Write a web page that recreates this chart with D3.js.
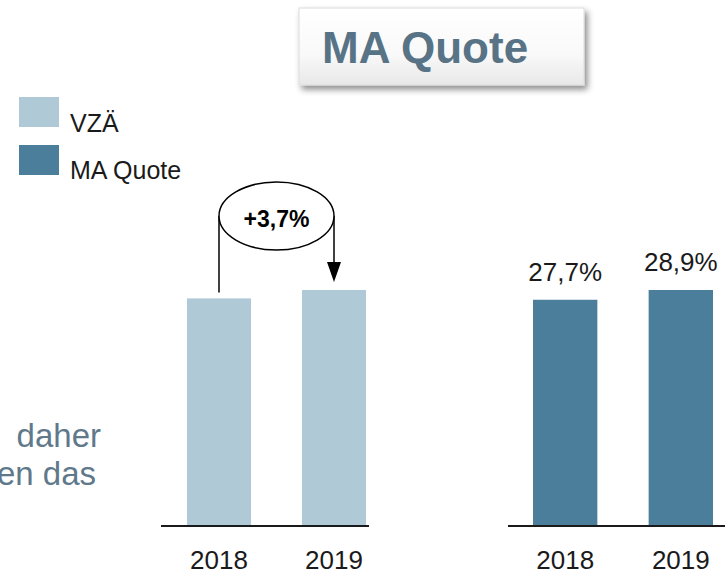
<!DOCTYPE html>
<html>
<head>
<meta charset="utf-8">
<script src="https://cdn.jsdelivr.net/npm/d3@7"></script>
<style>
  body { margin: 0; background: #fff; }
  svg { display: block; font-family: "Liberation Sans", Arial, sans-serif; }
</style>
</head>
<body>
<svg id="svg" width="725" height="574"></svg>
<script>
// データ
const categories = ["2018", "2019"];
const vzaValues = [100, 103.7];        // VZÄ（指数）
const maQuoteValues = [27.7, 28.9];    // MA Quote in %
const maLabels = ["27,7%", "28,9%"];
const growthLabel = "+3,7%";
const legendLabels = ["VZÄ", "MA Quote"];
const colors = ["#b0c9d7", "#4a7e9b"];

const svg = d3.select("#svg");
const baseY = 525;
const maxBarH = 235;

// タイトルの影
const defs = svg.append("defs");
const shadow = defs.append("filter").attr("id", "shadow")
  .attr("x", "-10%").attr("y", "-10%").attr("width", "130%").attr("height", "140%");
shadow.append("feDropShadow").attr("dx", 3).attr("dy", 4).attr("stdDeviation", 3)
  .attr("flood-color", "#000").attr("flood-opacity", 0.45);
const grad = defs.append("linearGradient").attr("id", "boxGrad")
  .attr("x1", 0).attr("y1", 0).attr("x2", 0).attr("y2", 1);
grad.append("stop").attr("offset", "0%").attr("stop-color", "#ffffff");
grad.append("stop").attr("offset", "60%").attr("stop-color", "#f9f9f9");
grad.append("stop").attr("offset", "100%").attr("stop-color", "#e8e8e8");

// タイトル
svg.append("rect")
  .attr("x", 299).attr("y", 8).attr("width", 285).attr("height", 77)
  .attr("fill", "url(#boxGrad)").attr("stroke", "#dcdcdc")
  .attr("filter", "url(#shadow)");
svg.append("text")
  .attr("x", 322).attr("y", 63)
  .attr("font-size", 44).attr("font-weight", "bold")
  .attr("fill", "#587386")
  .text("MA Quote");

// 凡例
const legend = svg.append("g");
legendLabels.forEach((label, i) => {
  legend.append("rect")
    .attr("x", 19).attr("y", 97 + i * 48)
    .attr("width", 40).attr("height", 30)
    .attr("fill", colors[i]);
  legend.append("text")
    .attr("x", 70).attr("y", 132 + i * 47)
    .attr("font-size", 25).attr("fill", "#1a1a1a")
    .text(label);
});

// 左側の本文（切れている部分）
const sideText = [" daher", "en das"];
sideText.forEach((t, i) => {
  svg.append("text")
    .attr("x", [101, 96][i]).attr("y", 447 + i * 38)
    .attr("text-anchor", "end")
    .attr("font-size", 33).attr("fill", "#5f798b")
    .attr("xml:space", "preserve")
    .text(t);
});

// 棒グラフを描く
function drawPanel(range, axisExtent, values, color) {
  const x = d3.scaleBand().domain(categories).range(range)
    .paddingInner(0.4435).paddingOuter(0);
  const y = d3.scaleLinear().domain([0, d3.max(values)])
    .range([baseY, baseY - maxBarH]);

  const g = svg.append("g");
  g.selectAll(".bar").data(values).join("rect")
    .attr("class", "bar")
    .attr("x", (d, i) => x(categories[i]))
    .attr("y", d => y(d))
    .attr("width", x.bandwidth())
    .attr("height", d => baseY - y(d))
    .attr("fill", color);

  g.append("line")
    .attr("x1", axisExtent[0]).attr("x2", axisExtent[1])
    .attr("y1", baseY + 1).attr("y2", baseY + 1)
    .attr("stroke", "#1a1a1a").attr("stroke-width", 2);

  const axis = g.append("g")
    .attr("transform", `translate(0,${baseY})`)
    .call(d3.axisBottom(x).tickSize(0).tickPadding(0));
  axis.select(".domain").remove();
  axis.selectAll("text")
    .attr("dy", null).attr("y", 44)
    .attr("font-size", 26).attr("fill", "#1a1a1a")
    .attr("font-family", "Liberation Sans, Arial, sans-serif");

  return { x, y, g };
}

const left = drawPanel([187, 366], [161, 369], vzaValues, colors[0]);
const right = drawPanel([533, 713], [508, 730], maQuoteValues, colors[1]);

// 右側のラベル
right.g.selectAll(".val").data(maQuoteValues).join("text")
  .attr("class", "val")
  .attr("x", (d, i) => right.x(categories[i]) + right.x.bandwidth() / 2)
  .attr("y", d => right.y(d) - 19)
  .attr("text-anchor", "middle")
  .attr("font-size", 26).attr("fill", "#1a1a1a")
  .text((d, i) => maLabels[i]);

// 増加率の矢印
const x1 = left.x(categories[0]) + left.x.bandwidth() / 2;
const x2 = left.x(categories[1]) + left.x.bandwidth() / 2;
const cx = (x1 + x2) / 2;
const cy = 216;
const tipY = left.y(vzaValues[1]) - 8;

svg.append("line")
  .attr("x1", x1).attr("x2", x1)
  .attr("y1", cy).attr("y2", left.y(vzaValues[0]) - 6)
  .attr("stroke", "#000").attr("stroke-width", 1.5);
svg.append("line")
  .attr("x1", x2).attr("x2", x2)
  .attr("y1", cy).attr("y2", tipY - 18)
  .attr("stroke", "#000").attr("stroke-width", 1.5);
svg.append("path")
  .attr("d", `M ${x2 - 7} ${tipY - 20} L ${x2 + 7} ${tipY - 20} L ${x2} ${tipY} Z`)
  .attr("fill", "#000");
svg.append("ellipse")
  .attr("cx", cx).attr("cy", cy)
  .attr("rx", (x2 - x1) / 2).attr("ry", 34)
  .attr("fill", "#fff").attr("stroke", "#000").attr("stroke-width", 1.5);
svg.append("text")
  .attr("x", cx).attr("y", cy + 11)
  .attr("text-anchor", "middle")
  .attr("font-size", 23).attr("font-weight", "bold").attr("fill", "#000")
  .text(growthLabel);
</script>
</body>
</html>
